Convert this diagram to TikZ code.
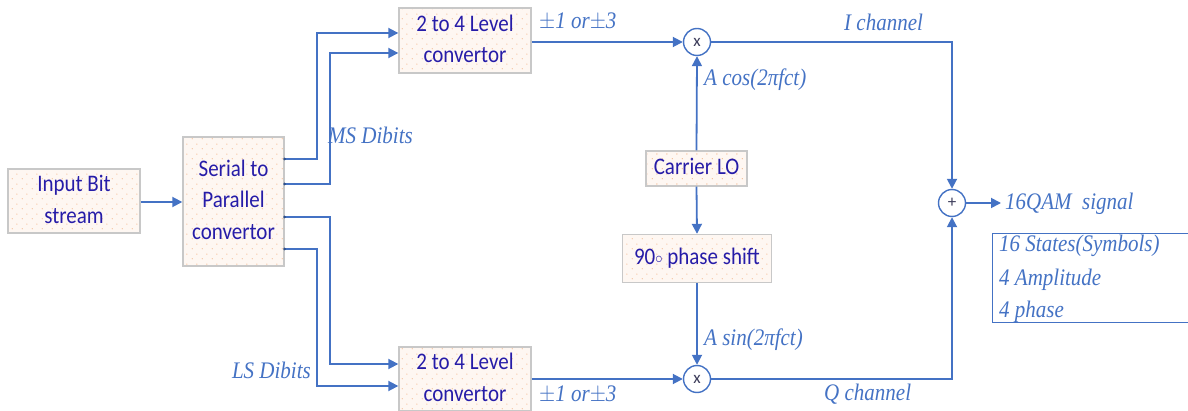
\documentclass[tikz,border=0pt]{standalone}
\usepackage{fontspec}
\usepackage{graphicx}
\setmainfont{Liberation Serif}
\newfontfamily\boxfont{Carlito}
\usetikzlibrary{arrows.meta,patterns.meta,calc}

\definecolor{wireblue}{RGB}{68,114,196}
\definecolor{boxtext}{RGB}{38,28,168}
\definecolor{boxedge}{RGB}{200,200,200}
\definecolor{boxfill}{RGB}{254,247,242}
\definecolor{dotcol}{RGB}{246,190,150}
\definecolor{signtext}{RGB}{60,60,90}

% sparse dot texture for the block fills
\tikzdeclarepattern{
  name=sparsedots,
  type=uncolored,
  bounding box={(0pt,0pt) and (10pt,10pt)},
  tile size={(10pt,10pt)},
  code={
    \fill (2.5pt,2.5pt) circle (0.7pt);
    \fill (7.5pt,7.5pt) circle (0.7pt);
  }
}

% slightly tall text, as set in the drawing
\newcommand\talltext[1]{\scalebox{1}[1.13]{\begin{tabular}{@{}c@{}}#1\end{tabular}}}

\tikzset{
  block/.style={draw=boxedge, line width=1.4pt, preaction={fill=boxfill},
    pattern={sparsedots}, pattern color=dotcol, inner sep=0pt,
    text=boxtext, font=\boxfont\fontsize{21}{28}\selectfont, align=center},
  mixer/.style={circle, draw=wireblue, line width=1.4pt, fill=white,
    minimum size=27pt, inner sep=0pt, text=signtext,
    font=\boxfont\fontsize{17}{17}\selectfont},
  wire/.style={draw=wireblue, line width=1.8pt},
  arrowed/.style={wire, -{Triangle[length=10pt,width=10pt]}},
  lbl/.style={text=wireblue, inner sep=1pt,
    font=\itshape\fontsize{21}{24}\selectfont},
  tapdot/.style={circle, fill=wireblue!70!black, inner sep=0pt, minimum size=3pt}
}

\begin{document}
\begin{tikzpicture}[x=1pt, y=-1pt]
\useasboundingbox (0,0) rectangle (1188,411);

% processing blocks
\node[block, minimum width=132pt, minimum height=64pt] (in) at (74,201) {\talltext{Input Bit\\stream}};
\node[block, minimum width=101pt, minimum height=129pt] (sp) at (233.5,201.5) {\talltext{Serial to\\Parallel\\convertor}};
\node[block, minimum width=132pt, minimum height=65pt] (lvA) at (465,40.5) {\talltext{2 to 4 Level\\convertor}};
\node[block, minimum width=132pt, minimum height=64pt] (lvB) at (465,379) {\talltext{2 to 4 Level\\convertor}};
\node[block, minimum width=101pt, minimum height=35pt] (lo) at (696.5,168.5) {\talltext{Carrier LO}};
\node[block, minimum width=149pt, minimum height=48pt] (ps) at (697,258.5) {\talltext{90\raisebox{0.05em}{\scalebox{0.7}{$\circ$}} phase shift}};

% mixers and summer
\node[mixer] (mA) at (697,42) {x};
\node[mixer] (mB) at (697,379) {x};
\node[mixer] (sum) at (952,203) {+};
\coordinate (out) at (1001,203);

% input to serial/parallel
\draw[arrowed] (in.east |- 0,202) -- (sp.west |- 0,202);

% dibit routing to the level convertors
\draw[arrowed] ([yshift=42.5pt]sp.east) -- ++(32,0) |- ([yshift=7.5pt]lvA.west);
\draw[arrowed] ([yshift=17.5pt]sp.east) -- ++(45,0) |- ([yshift=-12.5pt]lvA.west);
\draw[arrowed] ([yshift=-15.5pt]sp.east) -- ++(45,0) |- ([yshift=15pt]lvB.west);
\draw[arrowed] ([yshift=-47.5pt]sp.east) -- ++(32,0) |- ([yshift=-7pt]lvB.west);
\foreach \s in {42.5,17.5,-15.5,-47.5} \node[tapdot] at ([yshift=\s pt]sp.east) {};

% level convertors to mixers
\draw[arrowed] (lvA.east |- mA.west) -- (mA.west);
\draw[arrowed] (lvB.east |- mB.west) -- (mB.west);

% local oscillator chain
\draw[arrowed] (lo.north) -- (mA.south);
\draw[arrowed] (lo.south) -- (ps.north);
\draw[arrowed] (ps.south) -- (mB.north);

% I and Q branches into the summer
\draw[arrowed] (mA.east) -| (sum.north);
\draw[arrowed] (mB.east) -| (sum.south);
\draw[arrowed] (sum.east) -- (out);

% signal labels
\node[lbl, anchor=west] (msl) at (327,138) {\talltext{MS Dibits}};
\node[lbl, anchor=east] (lsl) at (312,373) {\talltext{LS Dibits}};
\node[lbl, anchor=west] (lvlA) at (538,23) {\talltext{$\pm$1 or$\pm$3}};
\node[lbl, anchor=west] (lvlB) at (538,396) {\talltext{$\pm$1 or$\pm$3}};
\node[lbl, anchor=west] (cosl) at (703,80) {\talltext{A cos(2πfct)}};
\node[lbl, anchor=west] (sinl) at (703,340) {\talltext{A sin(2πfct)}};
\node[lbl, anchor=west] (ich) at (843,25) {\talltext{I channel}};
\node[lbl, anchor=west] (qch) at (823,395) {\talltext{Q channel}};
\node[lbl, anchor=west] (qam) at (1004,204) {\talltext{16QAM\ \ signal}};

% property panel, open towards the right edge
\draw[draw=wireblue, line width=1pt] (1200,234) -- (992,234) -- (992,323) -- (1200,323);
\node[lbl, anchor=west] (st1) at (998,246) {\talltext{16 States(Symbols)}};
\node[lbl, anchor=west] (st2) at (998,280) {\talltext{4 Amplitude}};
\node[lbl, anchor=west] (st3) at (998,312) {\talltext{4 phase}};
\end{tikzpicture}
\end{document}
